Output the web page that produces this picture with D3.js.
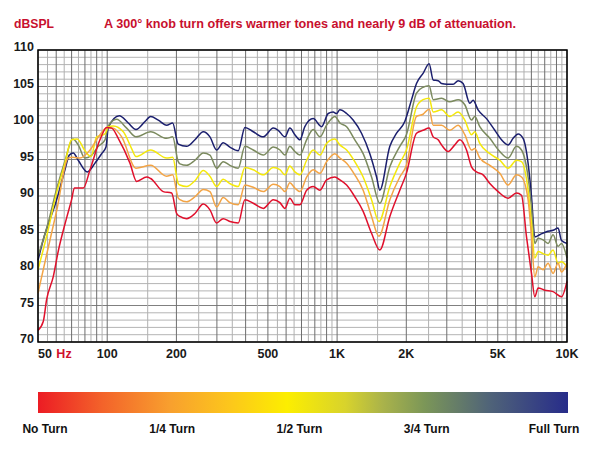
<!DOCTYPE html>
<html>
<head>
<meta charset="utf-8">
<title>Knob turn response</title>
<script src="https://cdn.jsdelivr.net/npm/d3@7"></script>
<style>
  body { margin: 0; background: #fff; }
  svg text { font-family: "Liberation Sans", Arial, sans-serif; }
</style>
</head>
<body>
<div id="chart"></div>
<script>
// values: [Hz, dBSPL]
var fullTurn = [[50,81.2],[52.7,84],[60.3,89.5],[65.5,93.6],[68.4,95.6],[71.2,95.9],[74.8,94.9],[81.9,93.3],[88.5,94.5],[94.6,95.8],[98.8,96.7],[101.1,99.4],[112.9,101.0],[123.5,100.0],[133.4,99.1],[146,100.2],[154.5,100.9],[166.8,100.4],[181.3,99.7],[192.6,100.0],[203.7,97.1],[221.5,96.8],[240.8,97.7],[261.8,98.8],[279.8,98.1],[299.2,96.3],[319.5,97.3],[341.7,96.7],[371.4,96.2],[397.2,99.4],[431.7,98.8],[477.2,98.1],[527.5,99.3],[554.5,99.0],[593,98.1],[623,99.3],[655,98.4],[689,97.7],[724,99.5],[787,100.6],[856,99.5],[915,101.3],[961,101.5],[995,101.3],[1028,101.8],[1100,101.3],[1174,100.4],[1277,98.6],[1388,95.8],[1485,92.6],[1534,90.8],[1696,96.8],[1814,98.6],[1970,100.2],[2108,103.2],[2215,105.4],[2366,106.8],[2513,108.1],[2618,105.9],[2751,105.8],[2847,105.4],[3002,105.3],[3197,105.3],[3361,105.8],[3533,105.4],[3778,102.7],[3904,103.1],[4104,101.8],[4465,100.6],[4852,99.0],[5188,97.7],[5543,97.0],[5828,97.9],[6128,98.5],[6441,97.9],[6772,94.5],[7008,89.9],[7244,84.4],[7614,84.7],[8141,85.1],[8697,85.3],[9144,85.6],[9464,83.9],[10000,83.5]];

var threeQuarter = [[50,81.8],[55,86],[60.3,91.0],[65.5,94.8],[70.8,97.8],[74.8,97.0],[80,95.2],[85,95.5],[91.4,96.8],[97.8,97.7],[101.1,99.6],[109.9,100.5],[121.5,99.3],[133.4,98.1],[154.5,98.8],[181.3,97.9],[192.6,98.1],[203.7,94.7],[207.2,94.4],[221.5,94.2],[240.8,94.9],[261.8,95.9],[279.8,95.6],[299.2,93.8],[319.5,94.7],[341.7,94.2],[371.4,93.8],[397.2,96.8],[431.7,96.3],[477.2,95.6],[527.5,96.7],[564,96.3],[593,95.6],[623,96.8],[655,96.1],[689,95.6],[737,97.7],[787,99.1],[842,98.1],[900,99.7],[978,100.9],[1028,100.0],[1100,99.5],[1194,97.7],[1298,95.8],[1412,92.6],[1534,89.0],[1696,94.0],[1874,96.8],[2002,98.4],[2215,104.1],[2366,104.9],[2513,105.1],[2618,103.2],[2847,103.4],[3093,102.9],[3361,103.2],[3593,102.5],[3842,100.4],[3972,100.9],[4175,99.5],[4617,97.9],[5102,96.1],[5543,95.2],[6030,96.8],[6340,96.3],[6772,92.6],[7008,88.5],[7244,83.5],[7488,84.2],[7870,84.0],[8274,83.5],[8697,84.7],[9144,83.1],[9464,83.5],[10000,81.5]];

var halfTurn = [[50,79.9],[55,85],[60.3,90.5],[65.5,94.5],[70,97.7],[74,97.8],[80,96.2],[85,95.4],[90,98.1],[97.8,98.5],[101.1,99.5],[106.3,99.6],[117.5,98.8],[127.7,96.5],[133.4,95.4],[154.5,96.3],[181.3,95.2],[192.6,95.3],[203.7,91.7],[207.2,91.5],[221.5,91.3],[240.8,92.1],[261.8,93.5],[279.8,92.7],[299.2,91.3],[319.5,92.3],[341.7,91.7],[371.4,91.3],[397.2,93.9],[431.7,93.6],[477.2,92.9],[527.5,93.9],[564,93.6],[593,92.9],[623,94.1],[655,93.3],[689,92.9],[737,94.9],[787,96.3],[842,95.6],[900,97.2],[978,97.8],[1028,97.0],[1100,96.3],[1194,94.7],[1298,92.6],[1412,89.5],[1520,86.5],[1696,91.3],[1874,94.5],[2002,96.3],[2215,102.2],[2366,103.2],[2513,103.4],[2618,101.5],[2847,101.8],[3093,100.9],[3361,101.5],[3593,100.4],[3842,98.4],[3972,98.8],[4175,97.2],[4617,95.8],[5102,94.9],[5543,93.8],[6030,94.9],[6340,94.7],[6772,90.8],[7008,86.3],[7244,81.5],[7488,82.4],[7870,82.1],[8274,81.9],[8697,82.6],[9144,80.8],[9464,81.0],[10000,80.3]];

var quarterTurn = [[50,76.7],[55,82.5],[60.3,88],[67.7,95.2],[70.8,95.3],[76.1,95.2],[84.2,96.3],[93,98.4],[100.1,99.4],[106.3,99.3],[115.6,98.1],[133.4,93.8],[154.5,94.2],[181.3,92.7],[192.6,92.9],[203.7,89.7],[207.2,89.5],[221.5,89.2],[240.8,89.9],[261.8,90.9],[279.8,90.6],[299.2,88.5],[319.5,89.8],[341.7,89.1],[371.4,88.8],[397.2,91.5],[431.7,91.2],[477.2,90.6],[527.5,91.6],[564,91.3],[593,90.6],[623,91.8],[655,91.1],[689,90.6],[737,92.6],[787,93.6],[842,93.1],[900,94.7],[978,95.8],[1028,95.2],[1100,94.5],[1194,92.9],[1298,90.8],[1412,87.2],[1520,84.5],[1696,89.5],[1874,92.6],[2002,94.2],[2215,100.9],[2366,101.2],[2513,101.9],[2618,99.7],[2847,99.7],[3093,99.0],[3361,99.7],[3593,98.4],[3842,96.3],[3972,96.5],[4175,95.2],[4617,94.2],[5102,93.1],[5543,91.5],[6030,92.9],[6340,92.6],[6772,89.5],[7008,84.4],[7244,78.9],[7488,80.3],[7870,79.9],[8274,80.8],[8697,79.4],[9144,80.8],[9464,79.6],[10000,80.8]];

var noTurn = [[50,71.6],[52.7,72.8],[54.5,75.8],[58.3,79.0],[61.3,82.5],[66.6,87],[70,89.5],[72,91.1],[78.7,91.1],[84.2,93.6],[93,97.7],[99.5,99.4],[104.6,99.3],[111.7,97.9],[125.6,94.5],[134.3,92.0],[148.5,92.6],[154.5,92.4],[175.3,90.6],[190.6,90.4],[200.6,87.6],[207.2,87.2],[221.5,86.9],[240.8,87.6],[261.8,88.9],[279.8,88.1],[299.2,86.3],[319.5,86.9],[341.7,86.5],[371.4,86.3],[397.2,89.5],[431.7,89.0],[477.2,88.3],[527.5,89.5],[564,89.1],[593,88.3],[623,89.7],[655,88.8],[689,88.8],[737,90.8],[787,91.3],[842,90.8],[900,92.2],[978,92.6],[1028,92.2],[1100,91.5],[1194,89.9],[1298,87.9],[1412,84.9],[1534,82.6],[1696,87.2],[1874,90.8],[2002,93.1],[2215,98.6],[2366,99.0],[2513,99.3],[2618,98.1],[2751,97.7],[2847,97.0],[3041,96.1],[3251,97.0],[3419,97.7],[3655,96.3],[3842,94.0],[4040,93.3],[4316,92.9],[4617,91.7],[5016,90.6],[5543,89.7],[6030,90.4],[6340,90.1],[6666,84.4],[7008,79.4],[7244,76.2],[7488,77.4],[8004,77.1],[8697,76.9],[9464,76.2],[10000,78.3]];

var yTicks = [70, 75, 80, 85, 90, 95, 100, 105, 110];
var xTicks = [50, 100, 200, 500, 1000, 2000, 5000, 10000];
var xTickLabels = ["50", "100", "200", "500", "1K", "2K", "5K", "10K"];
var legendLabels = ["No Turn", "1/4 Turn", "1/2 Turn", "3/4 Turn", "Full Turn"];

var series = [
  {data: fullTurn, color: "#1b1f6e"},
  {data: threeQuarter, color: "#7b8a5e"},
  {data: halfTurn, color: "#f4e80c"},
  {data: quarterTurn, color: "#f3a445"},
  {data: noTurn, color: "#e0102c"}
];

var W = 603, H = 460;
var svg = d3.select("#chart").append("svg")
  .attr("width", W)
  .attr("height", H);

var x = d3.scaleLog().domain([50, 10000]).range([38, 567]);
var y = d3.scaleLinear().domain([70, 110]).range([342, 50]);

// titles
svg.append("text").attr("x", 14).attr("y", 28)
  .style("font-size", "12px").style("font-weight", "bold").style("fill", "#c8102e")
  .attr("textLength", 40).attr("lengthAdjust", "spacingAndGlyphs")
  .text("dBSPL");
svg.append("text").attr("x", 104).attr("y", 28)
  .style("font-size", "12px").style("font-weight", "bold").style("fill", "#c8102e")
  .attr("textLength", 412).attr("lengthAdjust", "spacingAndGlyphs")
  .text("A 300\u00b0 knob turn offers warmer tones and nearly 9 dB of attenuation.");

// grid: 1 dB horizontals, log verticals
var grid = svg.append("g");
d3.range(70, 111).forEach(function(v) {
  grid.append("line")
    .attr("x1", x(50)).attr("x2", x(10000))
    .attr("y1", y(v)).attr("y2", y(v))
    .attr("stroke", v % 5 == 0 ? "#808080" : "#b4b4b4")
    .attr("stroke-width", 1);
});
var vlines = [];
[10, 100, 1000].forEach(function(dec) {
  for (var n = 1; n <= 9.5; n += 0.5) {
    var f = n * dec;
    if (f >= 50 && f <= 10000) vlines.push({f: f, major: n % 1 == 0});
  }
});
vlines.push({f: 10000, major: true});
vlines.forEach(function(d) {
  grid.append("line")
    .attr("x1", x(d.f)).attr("x2", x(d.f))
    .attr("y1", y(110)).attr("y2", y(70))
    .attr("stroke", d.major ? "#6e6e6e" : "#b0b0b0")
    .attr("stroke-width", 1);
});

// curves
var line = d3.line()
  .x(function(d) { return x(d[0]); })
  .y(function(d) { return y(d[1]); })
  .curve(d3.curveMonotoneX);

series.forEach(function(s) {
  svg.append("path")
    .datum(s.data)
    .attr("d", line)
    .attr("fill", "none")
    .attr("stroke", s.color)
    .attr("stroke-width", 1.5)
    .attr("stroke-linejoin", "round");
});

// frame
svg.append("rect")
  .attr("x", x(50)).attr("y", y(110))
  .attr("width", x(10000) - x(50)).attr("height", y(70) - y(110))
  .attr("fill", "none").attr("stroke", "#000").attr("stroke-width", 1.5);

// y labels
svg.selectAll(".ylab").data(yTicks).enter().append("text")
  .attr("x", 34).attr("y", function(d) { return y(d) + 1; })
  .attr("text-anchor", "end")
  .style("font-size", "12.5px").style("font-weight", "bold").style("fill", "#1a1a1a")
  .text(function(d) { return d; });

// x labels
svg.selectAll(".xlab").data(xTicks).enter().append("text")
  .attr("x", function(d) { return x(d); })
  .attr("y", 358)
  .attr("text-anchor", function(d) { return d == 50 ? "start" : "middle"; })
  .style("font-size", "12.5px").style("font-weight", "bold").style("fill", "#1a1a1a")
  .text(function(d, i) { return xTickLabels[i]; });
svg.append("text").attr("x", 64).attr("y", 358)
  .attr("text-anchor", "middle")
  .style("font-size", "12.5px").style("font-weight", "bold").style("fill", "#d0102e")
  .text("Hz");

// colour bar legend
var defs = svg.append("defs");
var grad = defs.append("linearGradient").attr("id", "turnGrad");
[[0, "#ec1c24"], [0.12, "#f3622a"], [0.25, "#f8a02e"], [0.36, "#fcc61c"], [0.47, "#fcee00"],
 [0.58, "#d8d32c"], [0.65, "#aab34a"], [0.73, "#7b9658"], [0.85, "#506478"], [1, "#272c8a"]]
  .forEach(function(s) {
    grad.append("stop").attr("offset", s[0]).attr("stop-color", s[1]);
  });
svg.append("rect")
  .attr("x", 38).attr("y", 392).attr("width", 530).attr("height", 21)
  .attr("fill", "url(#turnGrad)");

var lx = d3.scalePoint().domain(legendLabels).range([45, 554]);
svg.selectAll(".leg").data(legendLabels).enter().append("text")
  .attr("x", function(d) { return lx(d); })
  .attr("y", 433)
  .attr("text-anchor", "middle")
  .style("font-size", "12px").style("font-weight", "bold").style("fill", "#111")
  .text(function(d) { return d; });
</script>
</body>
</html>
